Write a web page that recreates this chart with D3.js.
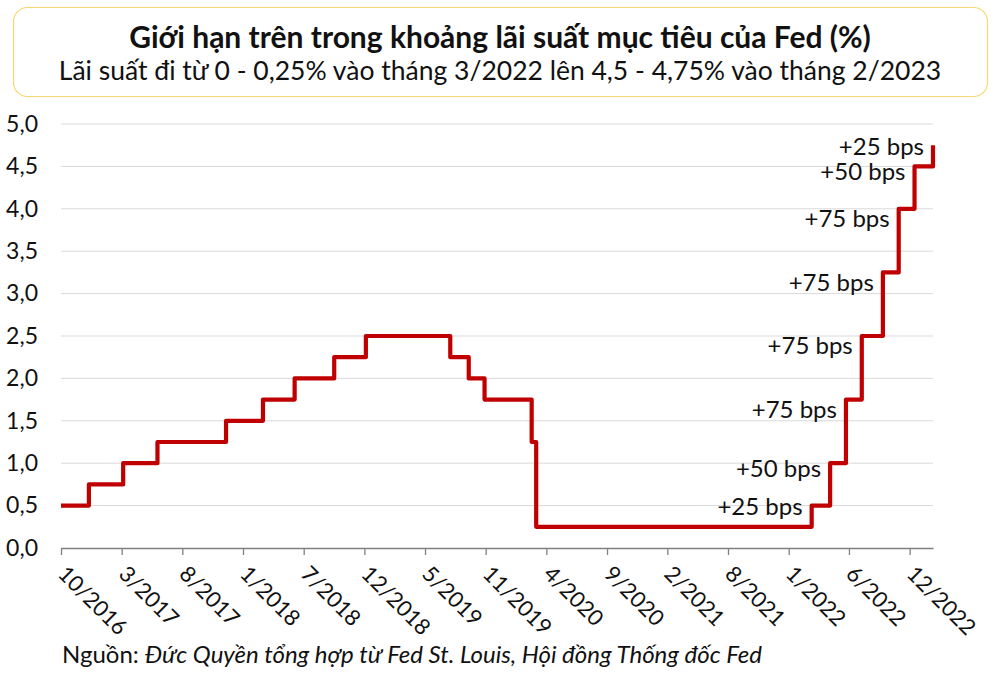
<!DOCTYPE html>
<html>
<head>
<meta charset="utf-8">
<script src="https://cdn.jsdelivr.net/npm/d3@7"></script>
<style>
    body { margin: 0; background: #fff; }
    text { font-family: Lato, "Noto Sans", sans-serif; }
</style>
</head>
<body>
<svg id="chart"></svg>
<script>
// Fed upper bound changes (date of decision, new upper bound in %)
var rateDates = ["2016-10-01", "2016-12-14", "2017-03-15", "2017-06-14", "2017-12-13",
    "2018-03-21", "2018-06-13", "2018-09-26", "2018-12-19", "2019-07-31", "2019-09-18",
    "2019-10-30", "2020-03-03", "2020-03-15", "2022-03-16", "2022-05-04", "2022-06-15",
    "2022-07-27", "2022-09-21", "2022-11-02", "2022-12-14", "2023-02-01"];
var rateValues = [0.5, 0.75, 1.0, 1.25, 1.5, 1.75, 2.0, 2.25, 2.5, 2.25, 2.0,
    1.75, 1.25, 0.25, 0.5, 1.0, 1.75, 2.5, 3.25, 4.0, 4.5, 4.75];

// axis ticks
var tickDates = ["2016-10-01", "2017-03-11", "2017-08-19", "2018-01-27", "2018-07-07",
    "2018-12-15", "2019-05-25", "2019-11-02", "2020-04-11", "2020-09-19", "2021-02-26",
    "2021-08-06", "2022-01-14", "2022-06-23", "2022-12-01"];
var tickLabels = ["10/2016", "3/2017", "8/2017", "1/2018", "7/2018", "12/2018", "5/2019",
    "11/2019", "4/2020", "9/2020", "2/2021", "8/2021", "1/2022", "6/2022", "12/2022"];
var yTicks = [0, 0.5, 1, 1.5, 2, 2.5, 3, 3.5, 4, 4.5, 5];

// hike annotations
var noteLabels = ["+25 bps", "+50 bps", "+75 bps", "+75 bps", "+75 bps", "+75 bps", "+50 bps", "+25 bps"];
var noteIndex = [14, 15, 16, 17, 18, 19, 20, 21];

var titleText = "Giới hạn trên trong khoảng lãi suất mục tiêu của Fed (%)";
var subtitleText = "Lãi suất đi từ 0 - 0,25% vào tháng 3/2022 lên 4,5 - 4,75% vào tháng 2/2023";

var W = 1000, H = 677;
var margin = {top: 124, right: 67, bottom: 129, left: 61},
    width = W - margin.left - margin.right,
    height = H - margin.top - margin.bottom;

var parse = d3.timeParse("%Y-%m-%d");
var data = rateDates.map(function(d, i) { return {date: parse(d), value: rateValues[i]}; });

var svg = d3.select("#chart").attr("width", W).attr("height", H);

// title box
svg.append("rect")
    .attr("x", 13.5).attr("y", 7.5).attr("width", 974).attr("height", 89)
    .attr("rx", 14).attr("ry", 14)
    .attr("fill", "#fff").attr("stroke", "#f7d774").attr("stroke-width", 1.2);
svg.append("text")
    .attr("x", 500).attr("y", 48)
    .attr("text-anchor", "middle")
    .style("font-size", "30px").style("font-weight", "bold").attr("fill", "#111")
    .text(titleText);
svg.append("text")
    .attr("x", 500).attr("y", 80)
    .attr("text-anchor", "middle")
    .style("font-size", "26.5px").attr("fill", "#111")
    .text(subtitleText);

var g = svg.append("g")
    .attr("transform", "translate(" + margin.left + "," + margin.top + ")");

var x = d3.scaleTime()
    .domain([parse("2016-10-01"), parse("2023-02-01")])
    .range([0, width]);
var y = d3.scaleLinear()
    .domain([0, 5])
    .range([height, 0]);

// gridlines
g.selectAll(".grid")
    .data(yTicks.filter(function(d) { return d > 0; }))
    .enter().append("line")
    .attr("x1", 0).attr("x2", width)
    .attr("y1", function(d) { return y(d); })
    .attr("y2", function(d) { return y(d); })
    .attr("stroke", "#d9d9d9").attr("stroke-width", 1);

// y axis labels
var fmt = function(d) { return d3.format(".1f")(d).replace(".", ","); };
var yAxis = g.append("g")
    .call(d3.axisLeft(y).tickValues(yTicks).tickFormat(fmt).tickSize(0).tickPadding(23));
yAxis.select(".domain").remove();
yAxis.selectAll("text")
    .style("font-size", "23px").attr("fill", "#111")
    .style("font-family", "Lato, sans-serif");

// x axis
var xAxis = g.append("g")
    .attr("transform", "translate(0," + height + ")")
    .call(d3.axisBottom(x)
        .tickValues(tickDates.map(parse))
        .tickFormat(function(d, i) { return tickLabels[i]; })
        .tickSize(7).tickSizeOuter(0));
xAxis.select(".domain").attr("stroke", "#808080").attr("stroke-width", 1.3);
xAxis.selectAll(".tick line").attr("stroke", "#808080").attr("stroke-width", 1.3);
xAxis.selectAll("text")
    .attr("transform", "rotate(45)")
    .attr("text-anchor", "start")
    .attr("x", 16).attr("y", 15).attr("dy", "0.35em")
    .style("font-size", "22px").attr("fill", "#111")
    .style("font-family", "Lato, sans-serif");

// step line
var line = d3.line()
    .x(function(d) { return x(d.date); })
    .y(function(d) { return y(d.value); })
    .curve(d3.curveStepAfter);
g.append("path")
    .datum(data)
    .attr("fill", "none")
    .attr("stroke", "#c00000")
    .attr("stroke-width", 4.2)
    .attr("stroke-linejoin", "round")
    .attr("d", line);

// annotations
g.selectAll(".note")
    .data(noteLabels)
    .enter().append("text")
    .attr("class", "note")
    .attr("x", function(d, i) { return x(data[noteIndex[i]].date) - 9; })
    .attr("y", function(d, i) {
        var k = noteIndex[i];
        var yn = y(data[k].value), yo = y(data[k - 1].value);
        return yn + 0.2 * (yo - yn) - 3;
    })
    .attr("dy", "0.35em")
    .attr("text-anchor", "end")
    .style("font-size", "24px").attr("fill", "#111")
    .text(function(d) { return d; });

// source
var src = svg.append("text")
    .attr("x", 62).attr("y", 663)
    .style("font-size", "24px").attr("fill", "#111");
src.append("tspan").text("Nguồn: ");
src.append("tspan").style("font-style", "italic")
    .text("Đức Quyền tổng hợp từ Fed St. Louis, Hội đồng Thống đốc Fed");
</script>
</body>
</html>
